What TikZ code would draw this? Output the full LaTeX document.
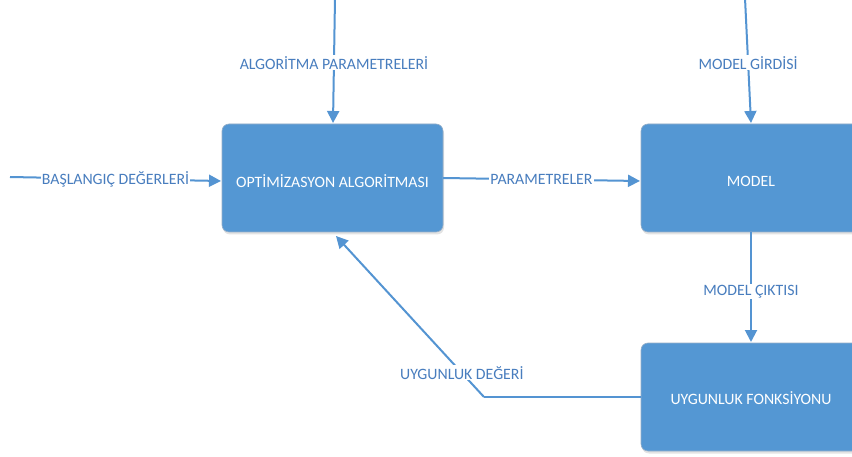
\documentclass[tikz,border=0pt]{standalone}
\usepackage{fontspec}
\setmainfont{Carlito}
\usetikzlibrary{arrows.meta,shadows}
\definecolor{boxblue}{RGB}{84,151,211}
\definecolor{boxedge}{RGB}{150,175,200}
\definecolor{linkblue}{RGB}{84,148,210}
\definecolor{lbltext}{RGB}{72,125,190}
\tikzset{
  procbox/.style={rectangle, rounded corners=7pt, fill=boxblue, draw=boxedge, line width=0.6pt,
    minimum width=220pt, minimum height=108pt, text=white, font=\fontsize{15.8}{18}\selectfont,
    drop shadow={opacity=0.22, shadow xshift=1pt, shadow yshift=-2.5pt}},
  boxtext/.style={text=white, font=\fontsize{15.8}{18}\selectfont},
  link/.style={draw=linkblue, line width=2pt, -{Triangle[length=12pt,width=12pt]}},
  plain/.style={draw=linkblue, line width=2pt},
  lbl/.style={fill=white, text=lbltext, inner sep=1pt, font=\fontsize{15.8}{18}\selectfont}
}
\begin{document}
\begin{tikzpicture}[x=1pt,y=-1pt]
\useasboundingbox (0,0) rectangle (852,457);
\fill[white] (0,0) rectangle (852,457);
\node[procbox, minimum width=221pt] (opt) at (332.5,178) {};
\node[procbox] (model) at (751,178) {};
\node[procbox] (fonk) at (751,397) {};
\node[boxtext] (optt) at (332.5,181) {OPTİMİZASYON ALGORİTMASI};
\node[boxtext] (modelt) at (751,181) {MODEL};
\node[boxtext] (fonkt) at (751,398.5) {UYGUNLUK FONKSİYONU};
% free ends
\coordinate (atop) at (335,-2);
\coordinate (optin) at (333,123);
\coordinate (mtop) at (745,-2);
\coordinate (modin) at (751,123);
\coordinate (bstart) at (10,177);
\coordinate (optleft) at (221,181);
\coordinate (optright) at (443,178);
\coordinate (modleft) at (640,181);
\coordinate (modout) at (751,232);
\coordinate (fonkin) at (751,342);
\coordinate (fonkleft) at (641,397);
\coordinate (elbow) at (484,397);
\coordinate (optfb) at (336,236);
\draw[link] (atop) -- node[lbl, pos=0.52] {ALGORİTMA PARAMETRELERİ} (optin);
\draw[link] (mtop) -- node[lbl, pos=0.52] {MODEL GİRDİSİ} (modin);
\draw[link] (bstart) -- node[lbl, pos=0.5] {BAŞLANGIÇ DEĞERLERİ} (optleft);
\draw[link] (optright) -- node[lbl, pos=0.5] {PARAMETRELER} (modleft);
\draw[link] (modout) -- node[lbl, pos=0.54] {MODEL ÇIKTISI} (fonkin);
\draw[plain] (fonkleft) -- (elbow);
\draw[link] (elbow) -- node[lbl, pos=0.15] {UYGUNLUK DEĞERİ} (optfb);
\end{tikzpicture}
\end{document}
